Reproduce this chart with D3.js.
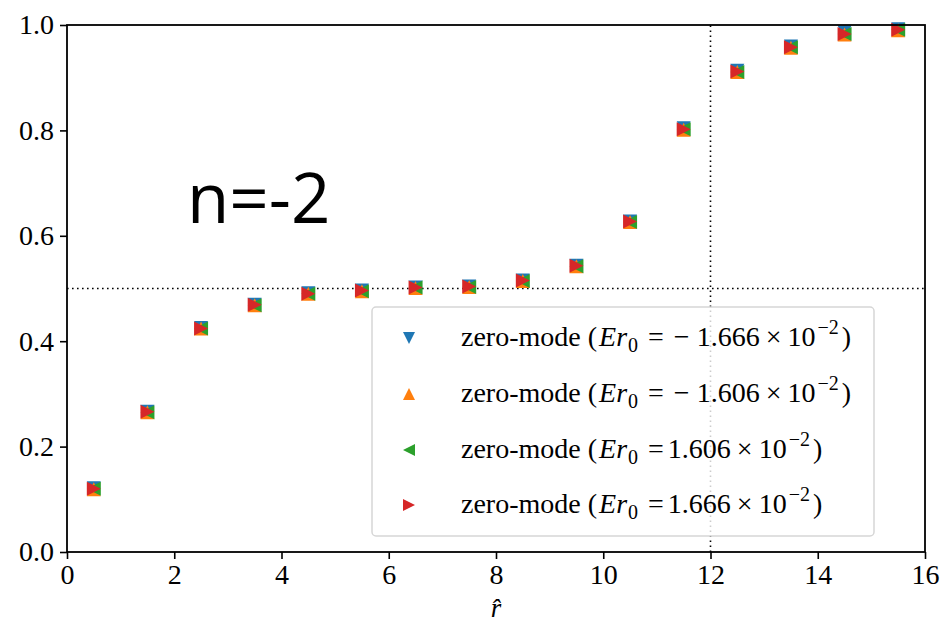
<!DOCTYPE html>
<html>
<head>
<meta charset="utf-8">
<script src="https://cdnjs.cloudflare.com/ajax/libs/d3/7.8.5/d3.min.js"></script>
<style>
  body { margin: 0; background: #fff; }
  svg text { font-family: "Liberation Serif", "Times New Roman", serif; }
</style>
</head>
<body>
<div id="chart"></div>
<script>
"use strict";
(function(){
    // r-hat positions
    const rValues = [0.5, 1.5, 2.5, 3.5, 4.5, 5.5, 6.5, 7.5, 8.5, 9.5, 10.5, 11.5, 12.5, 13.5, 14.5, 15.5]
    // one list per energy
    const seriesNeg1666 = [0.121, 0.266, 0.425, 0.469, 0.491, 0.496, 0.502, 0.504, 0.515, 0.543, 0.627, 0.804, 0.913, 0.959, 0.986, 0.992]
    const seriesNeg1606 = [0.119, 0.265, 0.424, 0.468, 0.490, 0.495, 0.501, 0.503, 0.514, 0.542, 0.626, 0.801, 0.911, 0.957, 0.982, 0.990]
    const seriesPos1606 = [0.120, 0.265, 0.424, 0.468, 0.490, 0.495, 0.502, 0.503, 0.514, 0.542, 0.626, 0.802, 0.911, 0.958, 0.983, 0.991]
    const seriesPos1666 = [0.120, 0.266, 0.424, 0.469, 0.490, 0.496, 0.502, 0.504, 0.515, 0.543, 0.627, 0.802, 0.912, 0.958, 0.983, 0.991]

    const xTicks = [0, 2, 4, 6, 8, 10, 12, 14, 16]
    const yTicks = [0.0, 0.2, 0.4, 0.6, 0.8, 1.0]

    const series = [
        {values: seriesNeg1666, color: "#1f77b4", shape: "down",  sign: "neg", num: "1.666"},
        {values: seriesNeg1606, color: "#ff7f0e", shape: "up",    sign: "neg", num: "1.606"},
        {values: seriesPos1606, color: "#2ca02c", shape: "left",  sign: "pos", num: "1.606"},
        {values: seriesPos1666, color: "#d62728", shape: "right", sign: "pos", num: "1.666"}
    ]

    const measurements = {
        width: 942,
        height: 622,
        left: 67,
        right: 925,
        top: 25,
        bottom: 552
    }

    const svg = d3.select("#chart").append("svg")
        .attr("width", measurements.width)
        .attr("height", measurements.height)

    const scaleX = d3.scaleLinear().domain([0, 16]).range([measurements.left, measurements.right])
    const scaleY = d3.scaleLinear().domain([0, 1]).range([measurements.bottom, measurements.top])

    // triangle paths filling a square of side s
    function triangle(shape, s) {
        const h = s / 2
        if (shape == "down") return `M0,${h}L${-h},${-h}L${h},${-h}Z`
        if (shape == "up") return `M0,${-h}L${-h},${h}L${h},${h}Z`
        if (shape == "left") return `M${-h},0L${h},${-h}L${h},${h}Z`
        return `M${h},0L${-h},${-h}L${-h},${h}Z`
    }

    // reference lines
    svg.append("line")
        .attr("x1", scaleX(0)).attr("x2", scaleX(16))
        .attr("y1", scaleY(0.5)).attr("y2", scaleY(0.5))
        .attr("stroke", "#000").attr("stroke-width", 1.6)
        .attr("stroke-dasharray", "1.6,3.4")
    svg.append("line")
        .attr("x1", scaleX(12)).attr("x2", scaleX(12))
        .attr("y1", scaleY(0)).attr("y2", scaleY(1))
        .attr("stroke", "#000").attr("stroke-width", 1.6)
        .attr("stroke-dasharray", "1.6,3.4")

    // points
    series.forEach(function(s) {
        svg.append("g").selectAll("path")
            .data(rValues.map((r, i) => [r, s.values[i]]))
            .enter().append("path")
            .attr("d", triangle(s.shape, 14))
            .attr("transform", d => `translate(${scaleX(d[0])},${scaleY(d[1])})`)
            .attr("fill", s.color)
    })

    // axes
    const xAxis = d3.axisBottom(scaleX).tickValues(xTicks).tickFormat(d3.format("d")).tickSize(7).tickPadding(5)
    const yAxis = d3.axisLeft(scaleY).tickValues(yTicks).tickFormat(d3.format(".1f")).tickSize(7).tickPadding(6)

    const gx = svg.append("g").attr("transform", `translate(0,${measurements.bottom})`).call(xAxis)
    const gy = svg.append("g").attr("transform", `translate(${measurements.left},0)`).call(yAxis)
    ;[gx, gy].forEach(function(g) {
        g.attr("font-family", null).attr("font-size", null)
        g.select(".domain").remove()
        g.selectAll(".tick line").attr("stroke", "#000").attr("stroke-width", 1.6)
        g.selectAll(".tick text").attr("fill", "#000").style("font-size", "28px")
    })

    // frame
    svg.append("rect")
        .attr("x", measurements.left).attr("y", measurements.top)
        .attr("width", measurements.right - measurements.left)
        .attr("height", measurements.bottom - measurements.top)
        .attr("fill", "none").attr("stroke", "#000").attr("stroke-width", 1.8)

    // x label r-hat
    svg.append("text")
        .attr("x", scaleX(8)).attr("y", 617)
        .attr("text-anchor", "middle")
        .style("font-size", "27px").style("font-style", "italic")
        .text("r\u0302")

    // legend
    const legend = svg.append("g")
    legend.append("rect")
        .attr("x", 372).attr("y", 307)
        .attr("width", 502).attr("height", 229)
        .attr("rx", 4)
        .attr("fill", "#fff").attr("fill-opacity", 0.8)
        .attr("stroke", "#d6d6d6").attr("stroke-width", 1.5)

    const rowY = [338, 394, 450, 505]
    series.forEach(function(s, i) {
        const row = legend.append("g").attr("transform", `translate(0,${rowY[i]})`)
        row.append("path")
            .attr("d", triangle(s.shape, 12))
            .attr("transform", "translate(409,0)")
            .attr("fill", s.color)
        const t = row.append("text")
            .attr("x", 461).attr("y", 8)
            .style("font-size", "28px")
        t.append("tspan").text("zero-mode (")
        t.append("tspan").style("font-style", "italic").attr("dx", 2).text("Er")
        t.append("tspan").attr("dx", 1).attr("dy", 6).style("font-size", "20px").text("0")
        t.append("tspan").attr("dx", 10).attr("dy", -6).text("=")
        if (s.sign == "neg") {
            t.append("tspan").attr("dx", 10).text("\u2212")
            t.append("tspan").attr("dx", 7).text(s.num)
        } else {
            t.append("tspan").attr("dx", 4).text(s.num)
        }
        t.append("tspan").attr("dx", 6).text("\u00D7")
        t.append("tspan").attr("dx", 6).text("10")
        t.append("tspan").attr("dx", 2).attr("dy", -12).style("font-size", "20px").text("\u22122")
        t.append("tspan").attr("dx", 3).attr("dy", 12).text(")")
    })

    // annotation
    svg.append("text")
        .attr("x", 187).attr("y", 223)
        .style("font-family", "'Open Sans', sans-serif")
        .style("font-size", "69px")
        .text("n=-2")
})()
</script>
</body>
</html>
